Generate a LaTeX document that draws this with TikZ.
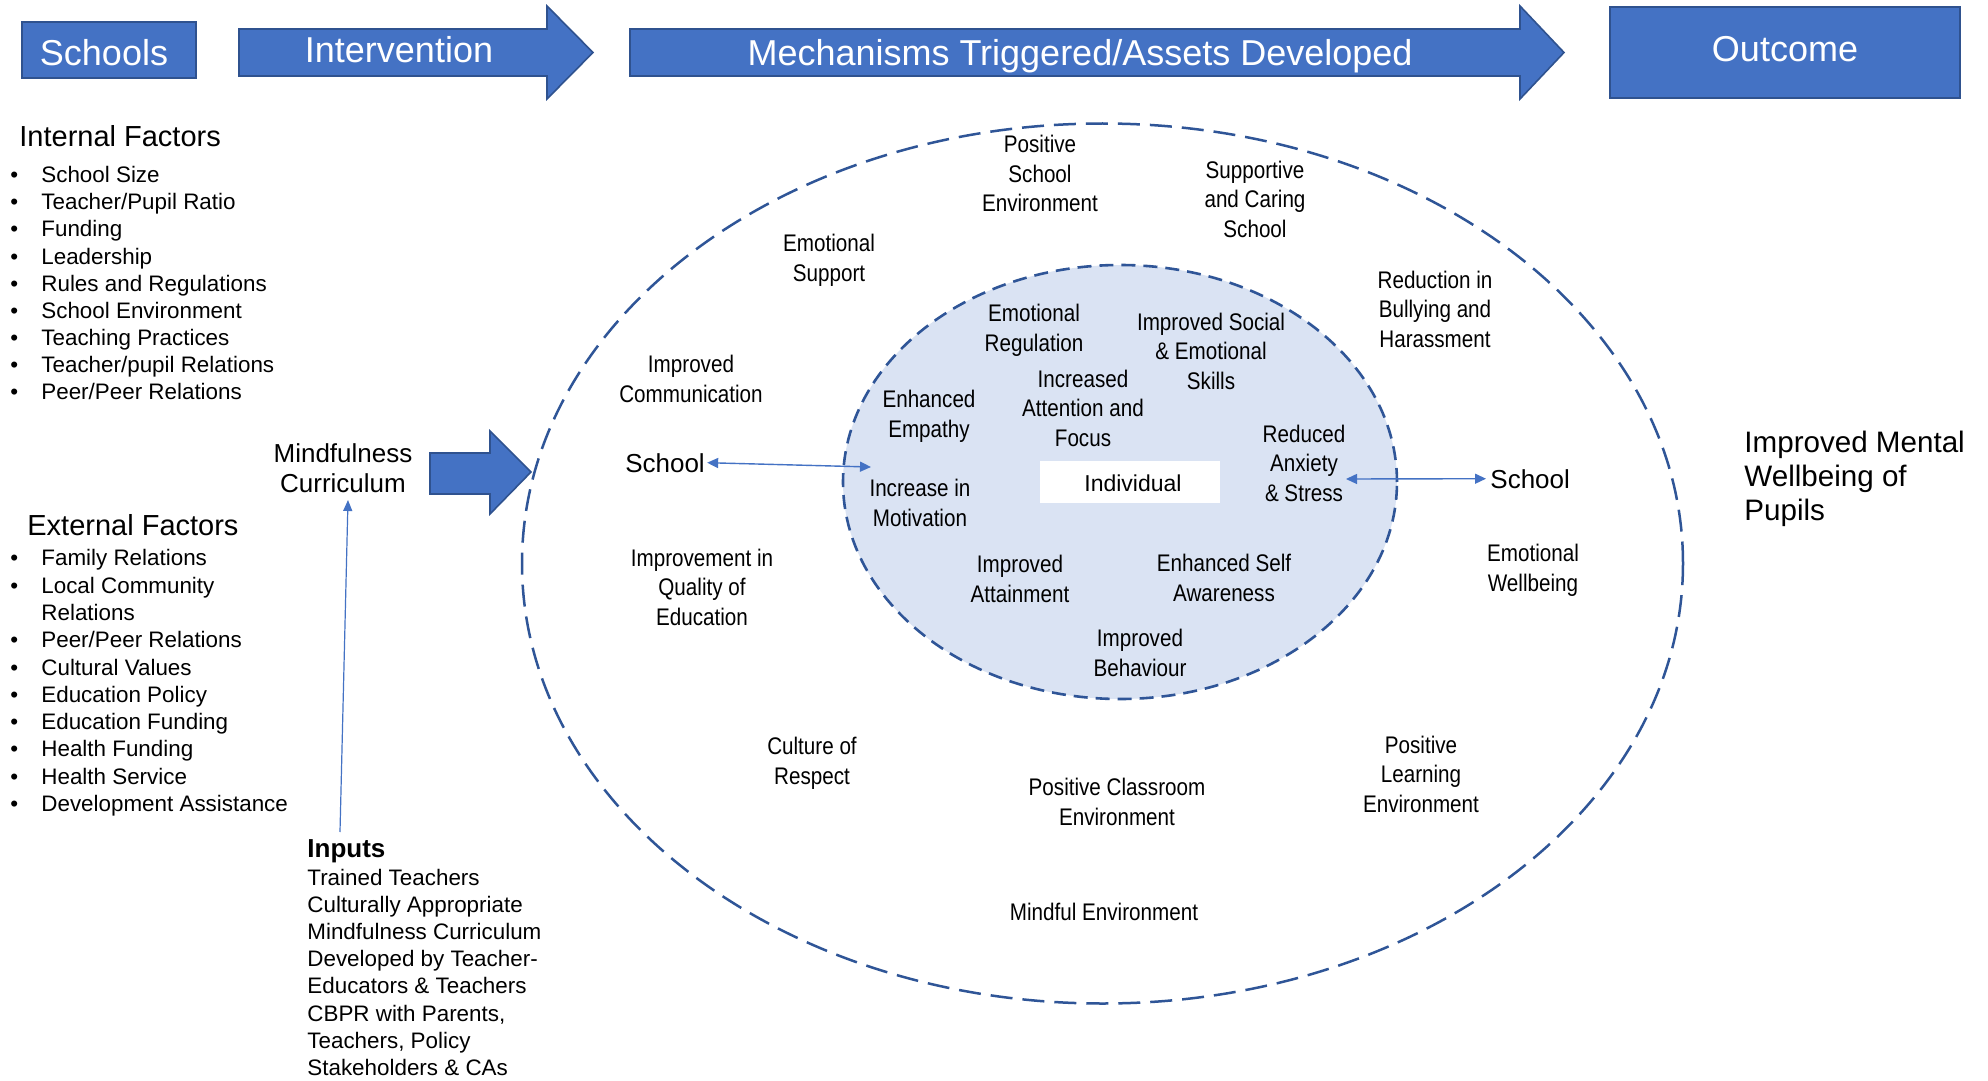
\documentclass[tikz,border=0pt]{standalone}
\usepackage{fontspec}
\setmainfont{Liberation Sans}
\newfontfamily\narrowfont[FakeStretch=0.86]{Liberation Sans}
\usetikzlibrary{arrows.meta,shapes.geometric}
\definecolor{bblue}{HTML}{4472C4}
\definecolor{bdark}{HTML}{2F528F}
\definecolor{edash}{HTML}{2F5597}
\definecolor{lfill}{HTML}{DAE3F3}
\newcommand\bulit{\makebox[15.5pt][l]{•}}
\begin{document}
\begin{tikzpicture}[x=0.5pt,y=-0.5pt,
  banner/.style={fill=bblue,draw=bdark,line width=0.8pt},
  bantext/.style={text=white,font=\fontsize{18}{21}\selectfont,inner sep=0pt,anchor=base},
  lab/.style={font=\narrowfont\fontsize{12}{14.75}\selectfont,align=center,anchor=base,inner sep=0pt},
  lst/.style={font=\fontsize{11.2}{13.6}\selectfont,align=left,anchor=base west,inner sep=0pt},
  head/.style={font=\fontsize{14.5}{17}\selectfont,anchor=base west,inner sep=0pt},
  reg/.style={font=\fontsize{13}{15}\selectfont,inner sep=0pt},
  thinarr/.style={draw=bblue,line width=0.7pt,{Triangle[length=5.5pt,width=5pt]}-{Triangle[length=5.5pt,width=5pt]}},
  uparr/.style={draw=bblue,line width=0.6pt,-{Triangle[length=5.5pt,width=4.5pt]}}
]
\fill[white] (0,0) rectangle (1988,1081);
\useasboundingbox (0,0) rectangle (1988,1081);

% ---- banner ----
\node[banner,minimum width=87pt,minimum height=28pt] (schools) at (109,50) {};
\node[bantext] (schoolst) at (104,66) {Schools};
\filldraw[banner] (239,29) -- (547,29) -- (547,6) -- (593,52.5) -- (547,99) -- (547,76) -- (239,76) -- cycle;
\node[bantext] (interv) at (399,63) {Intervention};
\filldraw[banner] (630,29) -- (1520,29) -- (1520,6) -- (1564,52.5) -- (1520,99) -- (1520,76) -- (630,76) -- cycle;
\node[bantext] (mech) at (1080,66) {Mechanisms Triggered/Assets Developed};
\node[banner,minimum width=175pt,minimum height=45.5pt] (outcome) at (1785,52.5) {};
\node[bantext] (outcomet) at (1785,62) {Outcome};

% ---- left column (base = last line) ----
\node[head] (intf) at (19,147) {Internal Factors};
\node[lst,font=\fontsize{11.2}{13.55}\selectfont] (intlist) at (10,399.5) {\bulit School Size\\ \bulit Teacher/Pupil Ratio\\ \bulit Funding\\ \bulit Leadership\\ \bulit Rules and Regulations\\ \bulit School Environment\\ \bulit Teaching Practices\\ \bulit Teacher/pupil Relations\\ \bulit Peer/Peer Relations};
\node[head] (extf) at (27,535) {External Factors};
\node[lst,font=\fontsize{11.2}{13.65}\selectfont] (extlist) at (10,811.5) {\bulit Family Relations\\ \bulit Local Community\\ \hspace*{15.5pt}Relations\\ \bulit Peer/Peer Relations\\ \bulit Cultural Values\\ \bulit Education Policy\\ \bulit Education Funding\\ \bulit Health Funding\\ \bulit Health Service\\ \bulit Development Assistance};

\node[reg,align=center,anchor=base] (mind) at (343,492) {Mindfulness\\ Curriculum};
\filldraw[banner] (430,453) -- (490,453) -- (490,431) -- (531,472) -- (490,514) -- (490,494) -- (430,494) -- cycle;

\node[lst] (inputs) at (307,1075.5) {{\fontsize{13}{13.6}\selectfont\bfseries Inputs}\\ Trained Teachers\\ Culturally Appropriate\\ Mindfulness Curriculum\\ Developed by Teacher-\\ Educators \& Teachers\\ CBPR with Parents,\\ Teachers, Policy\\ Stakeholders \& CAs};
\coordinate (inTop) at (340,832);
\coordinate (mindBot) at (348,500);
\draw[uparr] (inTop) -- (mindBot);

% ---- ellipses ----
\node[ellipse,draw=edash,line width=1.25pt,dash pattern=on 11pt off 5pt,minimum width=580.5pt,minimum height=440pt,inner sep=0pt] (outer) at (1102.5,563.5) {};
\node[ellipse,draw=edash,fill=lfill,line width=1.3pt,dash pattern=on 7pt off 4pt,minimum width=277pt,minimum height=217pt,inner sep=0pt] (inner) at (1120,482) {};
\node[fill=white,minimum width=90pt,minimum height=21pt] (indiv) at (1130,482) {};
\node[font=\fontsize{11.5}{13}\selectfont,inner sep=0pt,anchor=base] (indivt) at (1133,491) {Individual};

% ---- inner labels ----
\node[lab] (er) at (1034,351) {Emotional\\ Regulation};
\node[lab] (iss) at (1211,389) {Improved Social\\ \& Emotional\\ Skills};
\node[lab] (ee) at (929,437) {Enhanced\\ Empathy};
\node[lab] (iaf) at (1083,446) {Increased\\ Attention and\\ Focus};
\node[lab] (ras) at (1304,501) {Reduced\\ Anxiety\\ \& Stress};
\node[lab] (im) at (920,526) {Increase in\\ Motivation};
\node[lab] (ia) at (1020,602) {Improved\\ Attainment};
\node[lab] (esa) at (1224,601) {Enhanced Self\\ Awareness};
\node[lab] (ib) at (1140,676) {Improved\\ Behaviour};

% ---- outer labels ----
\node[lab] (pse) at (1040,212) {Positive\\ School\\ Environment};
\node[lab] (scs) at (1255,237) {Supportive\\ and Caring\\ School};
\node[lab] (es) at (829,281) {Emotional\\ Support};
\node[lab] (rbh) at (1435,347) {Reduction in\\ Bullying and\\ Harassment};
\node[lab] (ic) at (691,402) {Improved\\ Communication};
\node[lab] (iqe) at (702,625) {Improvement in\\ Quality of\\ Education};
\node[lab] (ew) at (1533,591) {Emotional\\ Wellbeing};
\node[lab] (cr) at (812,784) {Culture of\\ Respect};
\node[lab] (pce) at (1117,825) {Positive Classroom\\ Environment};
\node[lab] (ple) at (1421,812) {Positive\\ Learning\\ Environment};
\node[lab] (me) at (1104,920) {Mindful Environment};

% ---- school arrows ----
\node[reg,anchor=base] (schoolL) at (665,472) {School};
\node[reg,anchor=base west] (schoolR) at (1490,488) {School};
\coordinate (inL) at (871,467);
\coordinate (inR) at (1346,479);
\draw[thinarr] ([xshift=1pt]schoolL.east) -- (inL);
\draw[thinarr] (inR) -- ([xshift=-2pt]schoolR.west);

% ---- outcome ----
\node[font=\fontsize{14.8}{17}\selectfont,align=left,anchor=base west,inner sep=0pt] (wellb) at (1744,520) {Improved Mental\\ Wellbeing of\\ Pupils};
\end{tikzpicture}
\end{document}
